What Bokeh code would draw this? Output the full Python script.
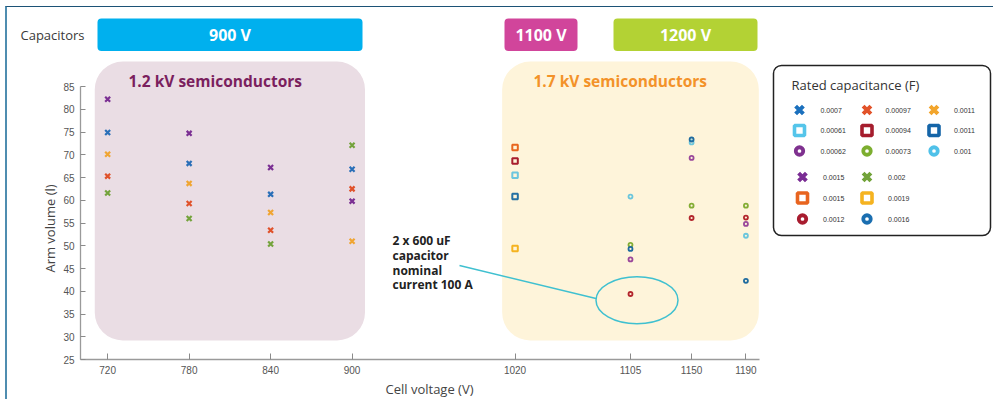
import numpy as np
from bokeh.plotting import figure
from bokeh.models import FixedTicker, Label
from bokeh.core.properties import value
from bokeh.embed import file_html
from bokeh.resources import INLINE

# ---------------- data ----------------
x_ticks = [720, 780, 840, 900, 1020, 1105, 1150, 1190]
y_ticks = [25, 30, 35, 40, 45, 50, 55, 60, 65, 70, 75, 80, 85]

cell_v_x = [720, 780, 840, 900]        # 1.2 kV semiconductors, 900 V capacitors
cell_v_sq = [1020]                     # 1.7 kV semiconductors, 1100 V capacitors
cell_v_ring = [1105, 1150, 1190]       # 1.7 kV semiconductors, 1200 V capacitors

# arm volume (l) per rated capacitance (F)
x_0p0007 = [74.9, 68.1, 61.3, 66.8]
x_0p00097 = [65.3, 59.3, 53.4, 62.5]
x_0p0011 = [70.1, 63.7, 57.3, 51.0]
x_0p0015 = [82.2, 74.7, 67.2, 59.8]
x_0p002 = [61.6, 56.0, 50.4, 72.1]

sq_0p00061 = [65.5]
sq_0p00094 = [68.6]
sq_0p0011 = [60.8]
sq_0p0015 = [71.6]
sq_0p0019 = [49.4]

o_0p00062 = [47.0, 69.3, 54.8]
o_0p00073 = [50.2, 58.8, 58.8]
o_0p001 = [60.8, 72.7, 52.2]
o_0p0012 = [39.4, 56.1, 56.2]
o_0p0016 = [49.3, 73.35, 42.3]

cap_labels = ["900 V", "1100 V", "1200 V"]
semi_labels = ["1.2 kV semiconductors", "1.7 kV semiconductors"]
note_lines = ["2 x 600 uF", "capacitor", "nominal", "current 100 A"]

# (label, marker, plot colour, legend colour, x values, y values)
series_top = [
    ("0.0007", "x", "#2a6fb8", "#1b70bd", cell_v_x, x_0p0007),
    ("0.00097", "x", "#e0522b", "#e2532a", cell_v_x, x_0p00097),
    ("0.0011", "x", "#f0a532", "#f2a52c", cell_v_x, x_0p0011),
    ("0.00061", "square", "#6cc6de", "#55c5ea", cell_v_sq, sq_0p00061),
    ("0.00094", "square", "#a81d2d", "#a51d2d", cell_v_sq, sq_0p00094),
    ("0.0011", "square", "#2570a3", "#1565a8", cell_v_sq, sq_0p0011),
    ("0.00062", "circle", "#9a479a", "#7f318f", cell_v_ring, o_0p00062),
    ("0.00073", "circle", "#84ad35", "#7cae2f", cell_v_ring, o_0p00073),
    ("0.001", "circle", "#6cc6dc", "#4fc1e9", cell_v_ring, o_0p001),
]
series_bottom = [
    ("0.0015", "x", "#7b2f93", "#7a2d94", cell_v_x, x_0p0015),
    ("0.002", "x", "#74a33c", "#72a33a", cell_v_x, x_0p002),
    ("0.0015", "square", "#e8661f", "#e8641f", cell_v_sq, sq_0p0015),
    ("0.0019", "square", "#f5b320", "#f5b320", cell_v_sq, sq_0p0019),
    ("0.0012", "circle", "#b3262d", "#a81c2f", cell_v_ring, o_0p0012),
    ("0.0016", "circle", "#1f6b9f", "#1a6eb0", cell_v_ring, o_0p0016),
]

# ---------------- layout ----------------
W, H = 988, 393
OX, OY = 7, 7                      # page offset of the canvas
AX_L, AX_B = 80, 359               # page px of axis origin
X0, X1, Y0, Y1 = 700, 1200, 25, 85
PX_X = (759 - 80) / (X1 - X0)
PX_Y = (359 - 86) / (Y1 - Y0)


def dx(px):
    return X0 + (px - AX_L) / PX_X


def dy(py):
    return Y0 + (AX_B - py) / PX_Y


p = figure(width=W, height=H, output_backend="svg", toolbar_location=None,
           x_range=(dx(OX), dx(OX + W)), y_range=(dy(OY + H), dy(OY)),
           min_border_left=0, min_border_bottom=0,
           min_border_top=0, min_border_right=0, title=None)
p.styles = {"margin-left": "5px", "margin-top": "6px",
            "border-left": "2px solid #4f8db0", "border-top": "1px solid #1c5276"}
p.background_fill_color = "white"
p.border_fill_color = "white"
p.outline_line_color = None
p.grid.visible = False

for ax in (p.xaxis, p.yaxis):
    ax.axis_line_color = "#9a9a9a"
    ax.axis_line_width = 1.3
    ax.major_tick_line_color = "#8a8a8a"
    ax.major_tick_out = 0
    ax.minor_tick_line_color = None
    ax.major_label_text_font = "Liberation Sans"
    ax.major_label_text_font_size = "10px"
    ax.major_label_text_color = "#555555"
    ax.major_label_standoff = 6
p.xaxis.major_tick_in = 6
p.yaxis.major_tick_in = 5
p.xaxis.ticker = FixedTicker(ticks=x_ticks)
p.yaxis.ticker = FixedTicker(ticks=y_ticks)
p.xaxis.bounds = (X0, X1)
p.yaxis.bounds = (Y0, Y1)
p.xaxis.fixed_location = Y0
p.yaxis.fixed_location = X0

# background regions
pad = 9.5
p.quad(left=[min(cell_v_x) - pad], right=[max(cell_v_x) + pad],
       top=[dy(61)], bottom=[dy(340)], fill_color="#eadde4", line_color=None,
       border_radius=28, level="underlay")
p.quad(left=[min(cell_v_sq) - pad], right=[max(cell_v_ring) + pad],
       top=[dy(61)], bottom=[dy(340)], fill_color="#fef4da", line_color=None,
       border_radius=28, level="underlay")
p.text(x=[dx(128), dx(533)], y=[dy(80.5)] * 2, text=semi_labels,
       text_color=["#7b1f5e", "#f39229"], text_font=value("Open Sans"),
       text_font_style="bold", text_font_size="15.5px", text_baseline="middle")

# capacitor header bars
bar_l = [dx(97), dx(504), dx(613)]
bar_r = [dx(362), dx(577), dx(757)]
p.quad(left=bar_l, right=bar_r, top=[dy(18)] * 3, bottom=[dy(50.5)] * 3,
       fill_color=["#00b0ee", "#d1459b", "#b3d234"], line_color=None, border_radius=4)
p.text(x=[(a + b) / 2 for a, b in zip(bar_l, bar_r)], y=[dy(34.5)] * 3, text=cap_labels,
       text_color="white", text_font=value("Open Sans"), text_font_style="bold",
       text_font_size="16px", text_align="center", text_baseline="middle")
p.add_layout(Label(x=dx(20), y=dy(34), text="Capacitors", text_font="Open Sans",
                   text_font_size="13px", text_color="#3a3a3a", text_baseline="middle"))

# annotation
p.ellipse(x=[dx(636.5)], y=[dy(299.7)], width=[82 / PX_X], height=[47 / PX_Y],
          fill_color=None, line_color="#3fc0d0", line_width=1.5)
p.line(x=[dx(459), dx(595.5)], y=[dy(265), dy(298)], line_color="#3fc0d0", line_width=1.5)
p.text(x=[dx(392)] * 4, y=[dy(240), dy(254.8), dy(269.6), dy(284.4)], text=note_lines,
       text_color="#222222", text_font=value("Open Sans"), text_font_style="bold",
       text_font_size="12px", text_baseline="middle")

# data markers
msize = {"x": 7, "square": 5.5, "circle": 4}
mlw = {"x": 2.2, "square": 2, "circle": 1.8}
draw_order = series_top + series_bottom
draw_order = sorted(draw_order, key=lambda s: 1 if s[0] == "0.0016" else 0)
for lab, mk, col, lcol, xs, ys in draw_order:
    p.scatter(x=xs, y=ys, marker=mk, size=msize[mk], line_width=mlw[mk],
              line_color=col, fill_color=None)

# legend box
p.quad(left=[dx(773)], right=[dx(990)], top=[dy(65)], bottom=[dy(235)],
       fill_color="white", line_color="#222222", line_width=1.5, border_radius=8)
p.text(x=[dx(791)], y=[dy(84)], text=["Rated capacitance (F)"], text_color="#333333",
       text_font=value("Open Sans"), text_font_size="13px", text_baseline="middle")
lsize = {"x": 11, "square": 10, "circle": 7.5}
llw = {"x": 4, "square": 3.6, "circle": 3.8}


def legend_block(items, rows, mcols, tcols, ncols):
    for i, (lab, mk, col, lcol, xs, ys) in enumerate(items):
        r, c = divmod(i, ncols)
        p.scatter(x=[dx(mcols[c])], y=[dy(rows[r])], marker=mk, size=lsize[mk],
                  line_width=llw[mk], line_color=lcol, fill_color=None)
        p.text(x=[dx(tcols[c])], y=[dy(rows[r])], text=[lab], text_color="#333333",
               text_font=value("Liberation Sans"), text_font_size="7px",
               text_baseline="middle")


legend_block(series_top, [109.5, 130, 150.5], [799, 866.5, 933.5], [820, 885, 953.5], 3)
legend_block(series_bottom, [176.5, 197.5, 218.5], [802, 866.5], [822.5, 887.5], 2)

# axis titles
p.add_layout(Label(x=dx(429), y=dy(388), text="Cell voltage (V)", text_font="Open Sans",
                   text_font_size="13px", text_color="#444444", text_align="center",
                   text_baseline="middle"))
p.add_layout(Label(x=dx(49), y=dy(228), text="Arm volume (l)", text_font="Open Sans",
                   text_font_size="13px", text_color="#444444", text_align="center",
                   text_baseline="middle", angle=np.pi / 2))

open("out.html", "w").write(file_html(p, INLINE))
